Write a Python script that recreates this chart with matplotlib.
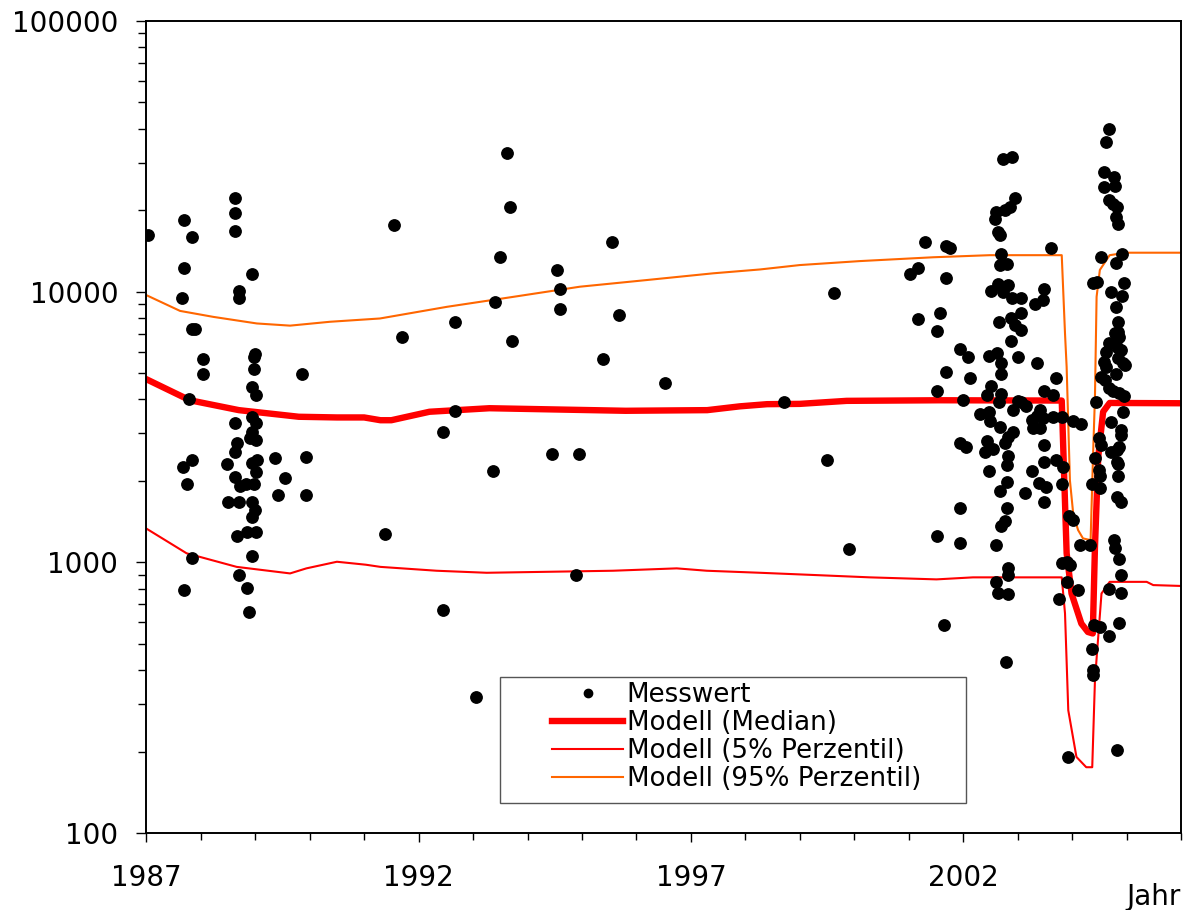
import matplotlib
matplotlib.use("Agg")
import matplotlib.pyplot as plt
from matplotlib.lines import Line2D
from matplotlib.patches import Rectangle
from matplotlib.ticker import FixedLocator, FixedFormatter, NullFormatter

# ---------------- data ----------------
mess_year = [
    1987.04, 1987.70, 1987.83, 1987.70, 1987.65, 1987.83, 1987.90, 1988.05, 1988.05, 1987.79,
    1987.83, 1987.68, 1987.74, 1987.83, 1987.70,
    1988.63, 1988.63, 1988.63, 1988.94, 1988.71, 1988.71, 1989.00, 1988.98, 1988.98, 1988.94,
    1989.01, 1989.85, 1988.94, 1989.01, 1988.63, 1988.94, 1988.90, 1989.02, 1988.67, 1988.63,
    1988.49, 1988.94, 1989.04, 1989.01, 1989.36, 1989.94, 1989.55, 1988.63, 1988.72, 1988.83,
    1988.98, 1989.41, 1989.94, 1988.50, 1988.71, 1988.94, 1989.00, 1988.94, 1988.66, 1988.84,
    1989.02, 1988.94, 1988.71, 1988.84, 1988.89,
    1991.38, 1991.55, 1991.69, 1992.44, 1992.44, 1992.66, 1992.66, 1993.05, 1993.36, 1993.40,
    1993.49, 1993.62, 1993.67, 1993.71, 1994.45, 1994.55, 1994.59, 1994.59, 1994.89, 1994.94,
    1995.38, 1995.56, 1995.68, 1996.52, 1998.71, 1999.50, 1999.63, 1999.90,
    2002.73, 2002.89, 2002.95, 2002.86, 2002.76, 2002.61, 2002.58, 2002.64, 2002.67, 2001.30,
    2001.69, 2001.75, 2002.70, 2001.17, 2001.03, 2002.67, 2002.80, 2001.69, 2002.64, 2002.83,
    2002.52, 2002.73, 2002.89, 2001.17, 2001.57, 2001.52, 2002.66, 2002.87, 2002.95, 2002.87,
    2001.94, 2002.09, 2002.48, 2002.62, 2002.70, 2003.01, 2001.69, 2002.12, 2002.70, 2001.52,
    2002.52, 2002.43, 2002.70, 2002.66, 2001.99, 2003.01, 2002.92, 2002.31, 2002.48, 2002.49,
    2002.67, 2002.92, 2002.83, 2002.76, 2001.94, 2002.05, 2002.44, 2002.40, 2002.54, 2002.83,
    2002.80, 2002.48, 2002.80, 2002.67, 2001.94, 2002.80, 2002.76, 2002.69, 2001.52, 2001.94,
    2002.61, 2002.83, 2002.83, 2002.61, 2002.64, 2002.83, 2001.65, 2002.78,
    2003.62, 2003.49, 2003.46, 2003.32, 2003.06, 2003.06, 2003.06, 2003.35, 2003.71, 2003.49,
    2003.65, 2003.07, 2003.16, 2003.41, 2003.35, 2003.26, 2003.47, 2003.65, 2003.81, 2003.28,
    2003.41, 2004.01, 2004.16, 2003.49, 2003.71, 2003.83, 2003.49, 2003.27, 2003.39, 2003.52,
    2003.14, 2003.81, 2003.49, 2003.94,
    2004.68, 2004.63, 2004.59, 2004.77, 2004.59, 2004.78, 2004.68, 2004.75, 2004.83, 2004.80,
    2004.85, 2004.54, 2004.91, 2004.80, 2004.46, 2004.39, 2004.95, 2004.71, 2004.91, 2004.80,
    2004.85, 2004.85, 2004.78, 2004.86, 2004.68, 2004.63, 2004.82, 2004.89, 2004.85, 2004.93,
    2004.97, 2004.58, 2004.63, 2004.80, 2004.53, 2004.60, 2004.68, 2004.75, 2004.86, 2004.95,
    2004.44, 2004.94, 2004.72, 2004.89, 2004.89, 2004.50, 2004.54, 2004.82, 2004.72, 2004.87,
    2004.42, 2004.83, 2004.85, 2004.50, 2004.51, 2004.85, 2004.36, 2004.51, 2004.82, 2004.89,
    2004.02, 2004.14, 2004.32, 2003.81, 2003.96, 2003.90, 2003.90, 2004.11, 2003.76, 2004.41,
    2004.51, 2004.37, 2004.38, 2004.38, 2003.93, 2004.82, 2004.68, 2004.86, 2004.77, 2004.78,
    2004.86, 2004.89, 2004.89, 2004.68,
]
mess_value = [
    16200, 18400, 15900, 12200, 9460, 7300, 7300, 5650, 4980, 4000,
    2390, 2250, 1945, 1040, 787,
    22100, 19450, 16750, 11600, 10070, 9460, 5880, 5750, 5160, 4460,
    4140, 4980, 3450, 3260, 3260, 3030, 2870, 2830, 2750, 2560,
    2300, 2330, 2390, 2160, 2420, 2460, 2050, 2060, 1920, 1945,
    1945, 1770, 1770, 1675, 1675, 1675, 1560, 1466, 1250, 1294,
    1294, 1055, 895, 804, 653,
    1270, 17650, 6780, 3020, 665, 7730, 3630, 318, 2170, 9120,
    13420, 32400, 20500, 6550, 2510, 12030, 10190, 8630, 897, 2510,
    5650, 15250, 8170, 4600, 3910, 2380, 9910, 1117,
    31000, 31500, 22200, 20550, 19950, 19670, 18500, 16630, 16140, 15290,
    14730, 14500, 13730, 12280, 11660, 12540, 12650, 11220, 10710, 10550,
    10020, 9930, 9480, 7910, 8330, 7180, 7710, 8020, 7560, 6550,
    6140, 5740, 5800, 5920, 5460, 5740, 5060, 4790, 4970, 4310,
    4470, 4150, 4200, 3910, 3990, 3930, 3640, 3530, 3590, 3320,
    3170, 3030, 2900, 2770, 2770, 2660, 2810, 2560, 2620, 2480,
    2280, 2170, 1980, 1840, 1590, 1590, 1420, 1360, 1250, 1180,
    1160, 955, 900, 847, 773, 761, 587, 430,
    14450, 10190, 9300, 9000, 9440, 8320, 7210, 5430, 4810, 4300,
    4150, 3920, 3780, 3650, 3460, 3360, 3410, 3450, 3450, 3130,
    3130, 3340, 3250, 2710, 2390, 2250, 2340, 2170, 1960, 1900,
    1800, 1940, 1675, 1480,
    39800, 35600, 27600, 26600, 24300, 24500, 21800, 21100, 20500, 18800,
    17800, 13460, 13780, 12750, 10900, 10740, 10800, 10000, 9640, 8790,
    7740, 7120, 7020, 6780, 6470, 6000, 6250, 6080, 5680, 5430,
    5360, 5510, 5270, 4960, 4820, 4710, 4390, 4300, 4230, 4120,
    3920, 3600, 3300, 3080, 2950, 2870, 2710, 2610, 2560, 2670,
    2420, 2350, 2300, 2200, 2080, 2080, 1950, 1880, 1750, 1675,
    1430, 1160, 1160, 991, 977, 1005, 847, 789, 729, 586,
    575, 477, 400, 383, 191, 202, 533, 598, 1208, 1125,
    1033, 897, 771, 800,
]

median_year = [1987.0, 1987.8, 1988.7, 1989.8, 1990.5, 1991.0, 1991.3, 1991.5, 1992.2, 1993.3,
               1995.8, 1997.3, 1997.9, 1998.4, 1999.0, 1999.86, 2001.57, 2003.81, 2003.90, 2003.99,
               2004.17, 2004.29, 2004.38, 2004.42, 2004.48, 2004.57, 2004.69, 2006.0]
median_value = [4750, 3970, 3650, 3450, 3430, 3430, 3350, 3350, 3600, 3710,
                3630, 3650, 3770, 3840, 3850, 3950, 3970, 3960, 1080, 767,
                594, 553, 546, 1140, 2450, 3600, 3880, 3870]

p5_year = [1987.0, 1987.74, 1988.66, 1989.64, 1989.94, 1990.5, 1991.03, 1991.3, 1992.33, 1993.25,
           1995.57, 1996.74, 1997.29, 1998.27, 1999.25, 2000.29, 2001.51, 2002.18, 2003.81, 2003.87,
           2003.93, 2004.08, 2004.26, 2004.37, 2004.42, 2004.54, 2004.69, 2005.37, 2005.49, 2006.0]
p5_value = [1333, 1080, 962, 910, 950, 1005, 980, 962, 931, 915,
            931, 950, 931, 915, 898, 880, 865, 880, 880, 648,
            284, 191, 175, 175, 367, 767, 847, 847, 824, 818]

p95_year = [1987.0, 1987.62, 1988.23, 1989.03, 1989.64, 1990.37, 1991.29, 1992.52, 1993.74, 1994.96,
            1996.19, 1997.41, 1998.27, 1999.0, 2000.10, 2001.45, 2002.49, 2003.81, 2003.87, 2003.90,
            2003.96, 2004.02, 2004.11, 2004.20, 2004.34, 2004.39, 2004.42, 2004.45, 2004.51, 2004.69,
            2004.99, 2006.0]
p95_value = [9710, 8490, 8070, 7630, 7490, 7740, 7960, 8790, 9570, 10430,
             11040, 11690, 12080, 12540, 12970, 13400, 13640, 13640, 7010, 5270,
             2010, 1517, 1316, 1226, 1208, 2670, 4090, 9570, 12030, 13640,
             13930, 13930]

year_ticks = [1987, 1992, 1997, 2002]
year_tick_labels = ["1987", "1992", "1997", "2002"]
value_ticks = [100, 1000, 10000, 100000]
value_tick_labels = ["100", "1000", "10000", "100000"]
legend_labels = ["Messwert", "Modell (Median)", "Modell (5% Perzentil)", "Modell (95% Perzentil)"]
x_label = "Jahr"

# ---------------- figure ----------------
W, H = 1191, 910
fig = plt.figure(figsize=(W / 100, H / 100), dpi=100)
ax = fig.add_axes([146.3 / W, 77 / H, (1181 - 146.3) / W, (833 - 21) / H])

RED = "#FF0000"
ORANGE = "#FF6600"

ax.plot(p95_year, p95_value, color=ORANGE, lw=1.5, zorder=2)
ax.plot(p5_year, p5_value, color=RED, lw=1.5, zorder=2)
ax.plot(median_year, median_value, color=RED, lw=4.6, zorder=2.5, solid_joinstyle="round")
ax.plot(mess_year, mess_value, linestyle="none", marker="o", ms=8.2,
        markerfacecolor="black", markeredgecolor="black", zorder=3)

ax.set_yscale("log")
ax.set_xlim(1987, 2006)
ax.set_ylim(100, 100000)

ax.yaxis.set_major_locator(FixedLocator(value_ticks))
ax.yaxis.set_major_formatter(FixedFormatter(value_tick_labels))
ax.yaxis.set_minor_locator(FixedLocator([m * 10 ** e for e in (2, 3, 4) for m in range(2, 10)]))
ax.yaxis.set_minor_formatter(NullFormatter())

ax.xaxis.set_major_locator(FixedLocator(year_ticks))
ax.xaxis.set_major_formatter(FixedFormatter(year_tick_labels))
ax.xaxis.set_minor_locator(FixedLocator([y for y in range(1987, 2007) if y not in year_ticks]))

for s in ax.spines.values():
    s.set_linewidth(1.4)
    s.set_color("black")

ax.tick_params(axis="y", which="major", direction="out", length=7.2, width=1.0,
               labelsize=20, pad=13)
ax.tick_params(axis="y", which="minor", direction="out", length=5.8, width=1.0)
ax.tick_params(axis="x", which="major", direction="out", length=6.5, width=1.0,
               labelsize=20, pad=16)
ax.tick_params(axis="x", which="minor", direction="out", length=4.8, width=1.0)

fig.text(1181 / W, 1 - 897 / H, x_label, fontsize=20, ha="right", va="center")

# legend frame
fig.patches.append(Rectangle((500 / W, 1 - 803 / H), 466 / W, 126 / H,
                             transform=fig.transFigure, facecolor="white",
                             edgecolor="#555555", lw=1.0, zorder=4))

handles = [
    Line2D([], [], linestyle="none", marker="o", ms=6, color="black"),
    Line2D([], [], color=RED, lw=4.6),
    Line2D([], [], color=RED, lw=1.5),
    Line2D([], [], color=ORANGE, lw=1.5),
]
leg = fig.legend(handles, legend_labels, loc="upper left",
                 bbox_to_anchor=(552 / W, 1 - 682 / H), frameon=False,
                 borderpad=0, borderaxespad=0, handlelength=2.72, handletextpad=0.14,
                 labelspacing=0.08, fontsize=18.8)
leg.set_zorder(5)

fig.savefig("out.png", dpi=100)
